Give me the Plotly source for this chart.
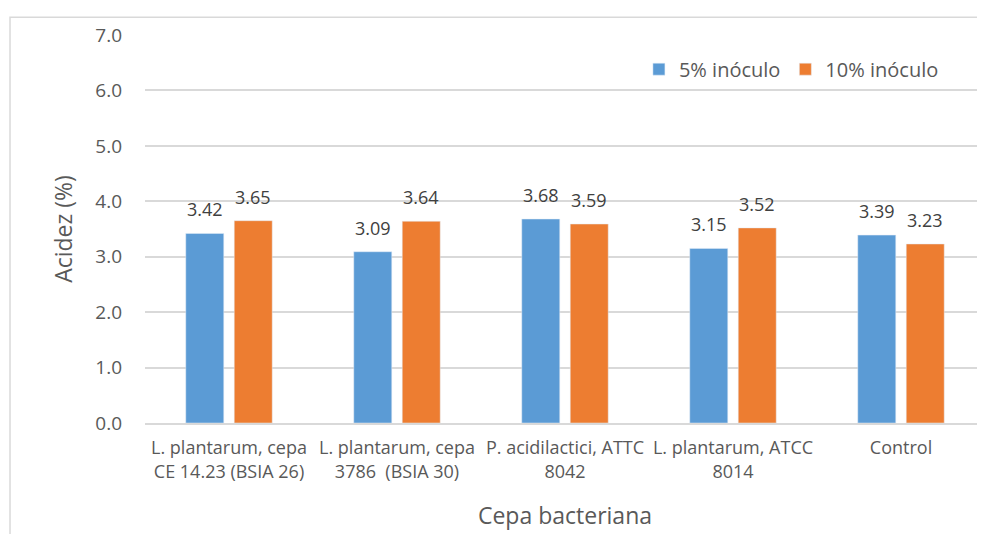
import plotly.graph_objects as go

categories = [
    "L. plantarum, cepa<br>CE 14.23 (BSIA 26)",
    "L. plantarum, cepa<br>3786  (BSIA 30)",
    "P. acidilactici, ATTC<br>8042",
    "L. plantarum, ATCC<br>8014",
    "Control",
]
inoculo_5 = [3.42, 3.09, 3.68, 3.15, 3.39]
inoculo_10 = [3.65, 3.64, 3.59, 3.52, 3.23]
y_ticks = [0, 1, 2, 3, 4, 5, 6, 7]

FONT = "'Open Sans', sans-serif"
GRAY = "#595959"
SLOT = 48.5  # px distance between bar centres within a group

fig = go.Figure()
fig.add_trace(go.Bar(x=categories, y=inoculo_5, name="5% inóculo", marker_color="#5B9BD5"))
fig.add_trace(go.Bar(x=categories, y=inoculo_10, name="10% inóculo", marker_color="#ED7D31"))

annotations = []
for series, shift in ((inoculo_5, -SLOT / 2), (inoculo_10, SLOT / 2)):
    for cat, v in zip(categories, series):
        annotations.append(dict(
            x=cat, y=v, xref="x", yref="y", text=f"{v:.2f}", showarrow=False,
            xshift=shift, yshift=24, yanchor="middle",
            font=dict(size=18, color="#404040", family=FONT),
        ))

fig.update_layout(
    width=977, height=526,
    margin=dict(l=137, r=0, t=27, b=111),
    paper_bgcolor="white", plot_bgcolor="white",
    font=dict(family=FONT, color=GRAY, size=16),
    barmode="group", bargap=0.423, bargroupgap=0.216,
    showlegend=True,
    legend=dict(orientation="h", x=0.588, y=0.912, xanchor="left", yanchor="middle",
                font=dict(size=20, color=GRAY), bgcolor="rgba(0,0,0,0)",
                itemwidth=30, traceorder="normal"),
    xaxis=dict(
        tickfont=dict(size=18, color=GRAY),
        showline=True, linecolor="#d9d9d9", linewidth=1.5,
        ticks="", showgrid=False, ticklabelstandoff=8,
        title=dict(text="Cepa bacteriana", font=dict(size=23, color=GRAY), standoff=26),
    ),
    yaxis=dict(
        range=[0, 7], tickvals=y_ticks, tickformat=".1f",
        tickfont=dict(size=19, color=GRAY),
        showgrid=True, gridcolor="#d9d9d9", gridwidth=1.5,
        zeroline=False, ticks="", ticklabelstandoff=22,
        title=dict(text="Acidez (%)", font=dict(size=23, color=GRAY), standoff=16),
    ),
    annotations=annotations,
    shapes=[dict(type="rect", xref="paper", yref="paper",
                 x0=-0.1607, x1=1.2, y0=-0.6, y1=1.046,
                 line=dict(color="#d9d9d9", width=1.5), fillcolor="rgba(0,0,0,0)",
                 layer="below")],
)

fig.write_html("out.html")
